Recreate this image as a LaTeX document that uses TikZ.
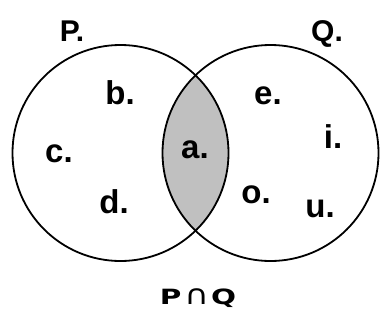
\documentclass[tikz,border=0pt]{standalone}
\usepackage{fontspec}
\setmainfont{Liberation Sans}
\newfontfamily\djvfont{DejaVu Sans}
\begin{document}
\begin{tikzpicture}[x=1pt,y=-1pt,
  lbl/.style={font=\fontsize{33}{33}\selectfont\bfseries, inner sep=0pt, anchor=base},
  setname/.style={font=\fontsize{30}{30}\selectfont\bfseries, inner sep=0pt, anchor=base},
  circ/.style={draw=black, line width=1.8pt}]
\useasboundingbox (0,0) rectangle (382,326);
\coordinate (CP) at (120.5,153);
\coordinate (CQ) at (270.5,153);
\begin{scope}
  \clip (CP) circle (108);
  \fill[fill={rgb,255:red,192;green,192;blue,192}] (CQ) circle (108);
\end{scope}
\draw[circ] (CP) circle (108);
\draw[circ] (CQ) circle (108);
\node[setname] (P) at (72,42) {P.};
\node[setname] (Q) at (327,42) {Q.};
\node[lbl] (b) at (120,104) {b.};
\node[lbl] (c) at (59,162) {c.};
\node[lbl] (d) at (114,213) {d.};
\node[lbl] (a) at (195,158) {a.};
\node[lbl] (e) at (268,104) {e.};
\node[lbl] (i) at (333,148) {i.};
\node[lbl] (o) at (256,203) {o.};
\node[lbl] (u) at (320,217) {u.};
\node[font=\fontsize{21}{21}\selectfont\djvfont, inner sep=0pt, anchor=base] (PQ) at (198,304)
  {\scalebox{1.4}[1]{\bfseries P}\hspace{3pt}\scalebox{1.6}[1.3]{∩}\hspace{2pt}\scalebox{1.4}[1]{\bfseries Q}};
\end{tikzpicture}
\end{document}
